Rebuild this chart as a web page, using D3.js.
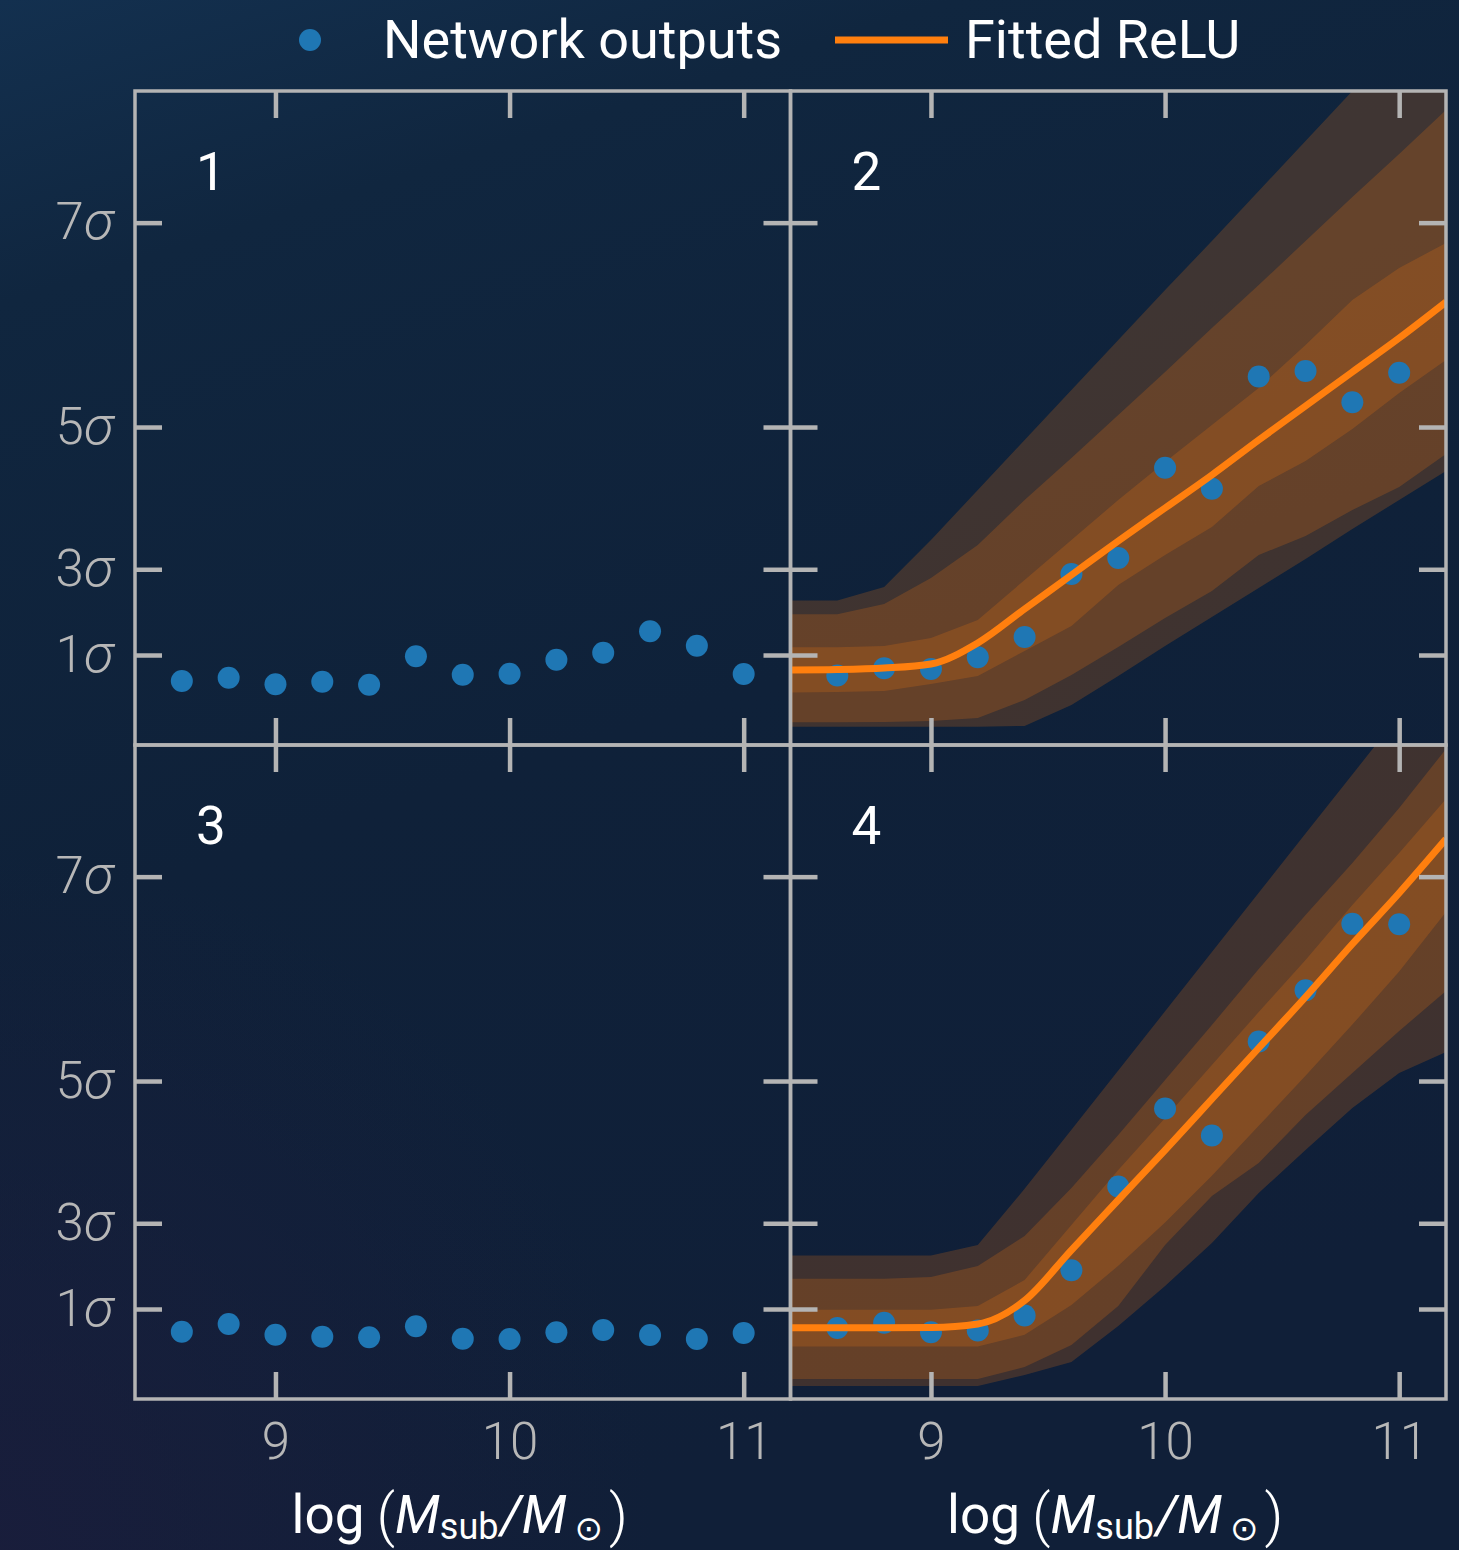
<!DOCTYPE html>
<html>
<head>
<meta charset="utf-8">
<script src="https://cdn.jsdelivr.net/npm/d3@7"></script>
<style>
  html, body { margin: 0; padding: 0; background: #0f213a; }
  svg { display: block; }
</style>
</head>
<body>
<svg id="chart" width="1459" height="1550"></svg>
<script>
// ---- data ----
const massGrid = [8.4, 8.6, 8.8, 9.0, 9.2, 9.4, 9.6, 9.8, 10.0, 10.2, 10.4, 10.6, 10.8, 11.0, 11.2];
const dotMass = [8.6, 8.8, 9.0, 9.2, 9.4, 9.6, 9.8, 10.0, 10.2, 10.4, 10.6, 10.8, 11.0];

// network outputs, detection score units (axis labelled in sigma)
const outputs1 = [0.979, 1.029, 0.928, 0.968, 0.922, 1.356, 1.075, 1.090, 1.304, 1.411, 1.739, 1.518, 1.086];
const outputs2 = [1.063, 1.173, 1.162, 1.343, 1.651, 2.615, 2.859, 4.240, 3.919, 5.635, 5.719, 5.240, 5.691];
const outputs3 = [1.029, 1.147, 0.983, 0.953, 0.943, 1.112, 0.922, 0.917, 1.020, 1.055, 0.979, 0.917, 1.009];
const outputs4 = [1.086, 1.167, 1.020, 1.047, 1.277, 1.970, 3.249, 4.442, 4.029, 5.467, 6.249, 7.265, 7.259];

// fitted ReLU on massGrid
const relu2 = [1.147, 1.154, 1.177, 1.239, 1.560, 2.080, 2.599, 3.119, 3.624, 4.129, 4.664, 5.184, 5.704, 6.223, 6.774];
const relu4 = [1.090, 1.090, 1.090, 1.093, 1.147, 1.506, 2.278, 3.043, 3.807, 4.587, 5.367, 6.147, 6.957, 7.737, 8.563];

// uncertainty bands on massGrid (inner / middle / outer)
const band2InnerLo = [0.803, 0.810, 0.826, 0.933, 1.055, 1.437, 1.820, 2.446, 2.905, 3.333, 3.960, 4.343, 4.832, 5.382, 5.887];
const band2InnerHi = [1.494, 1.494, 1.514, 1.636, 1.911, 2.523, 3.135, 3.746, 4.327, 4.893, 5.459, 6.116, 6.804, 7.294, 7.676];
const band2MidLo = [0.347, 0.347, 0.352, 0.367, 0.413, 0.688, 1.070, 1.498, 1.942, 2.355, 2.905, 3.196, 3.593, 3.945, 4.450];
const band2MidHi = [1.998, 1.998, 2.156, 2.554, 3.058, 3.746, 4.388, 5.046, 5.703, 6.376, 7.034, 7.706, 8.379, 9.037, 9.709];
const band2OuterLo = [0.280, 0.280, 0.280, 0.280, 0.280, 0.291, 0.612, 1.055, 1.514, 1.957, 2.401, 2.844, 3.303, 3.746, 4.190];
const band2OuterHi = [2.208, 2.208, 2.416, 3.135, 3.899, 4.664, 5.428, 6.193, 6.957, 7.706, 8.471, 9.235, 10.0, 10.765, 11.529];

const band4InnerLo = [0.803, 0.803, 0.803, 0.803, 0.803, 0.982, 1.437, 2.037, 2.697, 3.414, 4.177, 4.942, 5.725, 6.537, 7.446];
const band4InnerHi = [1.364, 1.364, 1.364, 1.364, 1.422, 1.820, 2.661, 3.502, 4.297, 5.107, 5.917, 6.713, 7.554, 8.349, 9.174];
const band4MidLo = [0.306, 0.306, 0.306, 0.306, 0.306, 0.489, 0.826, 1.422, 2.355, 3.104, 3.609, 4.343, 4.985, 5.627, 6.239];
const band4MidHi = [1.838, 1.838, 1.838, 1.865, 2.034, 2.492, 3.226, 4.037, 4.878, 5.719, 6.575, 7.401, 8.196, 9.037, 9.939];
const band4OuterLo = [0.199, 0.199, 0.199, 0.199, 0.199, 0.367, 0.566, 1.116, 1.728, 2.385, 3.150, 3.807, 4.450, 4.985, 5.306];
const band4OuterHi = [2.196, 2.196, 2.196, 2.196, 2.355, 3.213, 4.118, 5.023, 5.928, 6.835, 7.739, 8.645, 9.549, 10.454, 11.360];

const yTickValues = [1.376, 2.687, 4.862, 7.987];
const yTickLabels = ['1', '3', '5', '7'];
const xTickValues = [9, 10, 11];
const panelLabels = ['1', '2', '3', '4'];

// ---- layout ----
const L = {
    left: 135,
    top: 91,
    panelW: 655.5,
    panelH: 654,
    tickLen: 27,
    xDomain: [8.4, 11.2],
    yDomain: [0, 10],
};
const COLORS = {
    dot: '#1f77b4',
    fit: '#ff7f0e',
    spine: '#b4b4b4',
    tickText: '#b7b7b7',
    text: '#ffffff',
};
const FONT = 'Roboto, "DejaVu Sans", sans-serif';

const svg = d3.select('#chart');

// background
const defs = svg.append('defs');
const bg = defs.append('linearGradient').attr('id', 'bg')
    .attr('x1', 0).attr('y1', 0).attr('x2', 0.3).attr('y2', 1);
bg.append('stop').attr('offset', '0%').attr('stop-color', '#13304f');
bg.append('stop').attr('offset', '18%').attr('stop-color', '#10263f');
bg.append('stop').attr('offset', '55%').attr('stop-color', '#0f2139');
bg.append('stop').attr('offset', '100%').attr('stop-color', '#101f38');
const glow = defs.append('radialGradient').attr('id', 'glow')
    .attr('cx', 0).attr('cy', 1).attr('r', 0.45);
glow.append('stop').attr('offset', '0%').attr('stop-color', '#1b1d3c').attr('stop-opacity', 0.8);
glow.append('stop').attr('offset', '100%').attr('stop-color', '#1b1d3c').attr('stop-opacity', 0);

svg.append('rect').attr('width', 1459).attr('height', 1550).attr('fill', 'url(#bg)');
svg.append('rect').attr('width', 1459).attr('height', 1550).attr('fill', 'url(#glow)');

const panels = [
    { row: 0, col: 0, outputs: outputs1 },
    { row: 0, col: 1, outputs: outputs2, fit: relu2,
      bands: [[band2OuterLo, band2OuterHi], [band2MidLo, band2MidHi], [band2InnerLo, band2InnerHi]] },
    { row: 1, col: 0, outputs: outputs3 },
    { row: 1, col: 1, outputs: outputs4, fit: relu4,
      bands: [[band4OuterLo, band4OuterHi], [band4MidLo, band4MidHi], [band4InnerLo, band4InnerHi]] },
];

function drawXLabel(cx) {
    const t = svg.append('text')
        .attr('x', cx)
        .attr('y', 1533)
        .attr('text-anchor', 'middle')
        .attr('fill', COLORS.text)
        .style('font-family', FONT)
        .style('font-size', '53px');
    t.append('tspan').text('log');
    t.append('tspan').attr('dx', 12).attr('dy', 2).style('font-weight', 300).style('font-size', '58px').text('(');
    t.append('tspan').attr('dy', -2).style('font-style', 'italic').text('M');
    t.append('tspan').attr('dy', 6).style('font-size', '36px').text('sub');
    t.append('tspan').attr('dx', 2).attr('dy', -6).style('font-style', 'italic').text('/M');
    t.append('tspan').attr('dx', 8).attr('dy', 7).style('font-size', '34px').text('⊙');
    t.append('tspan').attr('dx', 6).attr('dy', -5).style('font-weight', 300).style('font-size', '58px').text(')');
}

function drawPanel(p, i) {
    const x0 = L.left + p.col * L.panelW;
    const y0 = L.top + p.row * L.panelH;
    const x = d3.scaleLinear().domain(L.xDomain).range([x0, x0 + L.panelW]);
    const y = d3.scaleLinear().domain(L.yDomain).range([y0 + L.panelH, y0]);

    const clipId = `clip-${i}`;
    defs.append('clipPath').attr('id', clipId)
        .append('rect')
        .attr('x', x0).attr('y', y0)
        .attr('width', L.panelW).attr('height', L.panelH);

    const g = svg.append('g').attr('clip-path', `url(#${clipId})`);

    if (p.bands) {
        p.bands.forEach(([lo, hi]) => {
            const area = d3.area()
                .x((d, k) => x(massGrid[k]))
                .y0((d, k) => y(lo[k]))
                .y1((d, k) => y(hi[k]));
            g.append('path')
                .datum(massGrid)
                .attr('d', area)
                .attr('fill', COLORS.fit)
                .attr('fill-opacity', 0.2);
        });
    }

    g.selectAll('circle.out')
        .data(p.outputs)
        .join('circle')
        .attr('class', 'out')
        .attr('cx', (d, k) => x(dotMass[k]))
        .attr('cy', (d) => y(d))
        .attr('r', 11)
        .attr('fill', COLORS.dot);

    if (p.fit) {
        const line = d3.line()
            .x((d, k) => x(massGrid[k]))
            .y((d) => y(d))
            .curve(d3.curveMonotoneX);
        g.append('path')
            .datum(p.fit)
            .attr('d', line)
            .attr('fill', 'none')
            .attr('stroke', COLORS.fit)
            .attr('stroke-width', 7)
            .attr('stroke-linejoin', 'round');
    }

    // frame
    svg.append('rect')
        .attr('x', x0).attr('y', y0)
        .attr('width', L.panelW).attr('height', L.panelH)
        .attr('fill', 'none')
        .attr('stroke', COLORS.spine)
        .attr('stroke-width', 3.5);

    // inward ticks on all four sides
    const axes = [
        { ax: d3.axisTop(x).tickValues(xTickValues), tr: `translate(0,${y0})` },
        { ax: d3.axisBottom(x).tickValues(xTickValues), tr: `translate(0,${y0 + L.panelH})`, labels: p.row === 1 },
        { ax: d3.axisLeft(y).tickValues(yTickValues), tr: `translate(${x0},0)`, labels: p.col === 0, sigma: true },
        { ax: d3.axisRight(y).tickValues(yTickValues), tr: `translate(${x0 + L.panelW},0)` },
    ];
    axes.forEach((a) => {
        a.ax.tickSize(-L.tickLen).tickPadding(a.sigma ? 22 : 23.5);
        if (!a.labels) a.ax.tickFormat('');
        else if (a.sigma) a.ax.tickFormat((d, k) => yTickLabels[k]);
        else a.ax.tickFormat(d3.format('d'));
        const ag = svg.append('g').attr('transform', a.tr).call(a.ax);
        ag.select('.domain').remove();
        ag.selectAll('.tick line')
            .attr('stroke', COLORS.spine)
            .attr('stroke-width', 4.5);
        ag.selectAll('.tick text')
            .attr('fill', COLORS.tickText)
            .style('font-family', FONT)
            .style('font-weight', 300)
            .style('font-size', '51px');
        if (a.labels && a.sigma) {
            ag.selectAll('.tick text')
                .append('tspan')
                .style('font-style', 'italic')
                .style('font-size', '54px')
                .text('σ');
        }
    });

    // panel number
    svg.append('text')
        .attr('x', x0 + 61)
        .attr('y', y0 + 99)
        .attr('fill', COLORS.text)
        .style('font-family', FONT)
        .style('font-size', '53px')
        .text(panelLabels[i]);

    if (p.row === 1) drawXLabel(x0 + L.panelW / 2 - 3);
}

panels.forEach(drawPanel);

// legend
const legend = svg.append('g')
    .style('font-family', FONT)
    .style('font-size', '54px');
legend.append('circle').attr('cx', 310).attr('cy', 40).attr('r', 11).attr('fill', COLORS.dot);
legend.append('text').attr('x', 383).attr('y', 58)
    .attr('fill', COLORS.text)
    .text('Network outputs');
legend.append('line').attr('x1', 835).attr('x2', 948).attr('y1', 40).attr('y2', 40)
    .attr('stroke', COLORS.fit).attr('stroke-width', 7);
legend.append('text').attr('x', 965).attr('y', 58)
    .attr('fill', COLORS.text)
    .text('Fitted ReLU');
</script>
</body>
</html>
